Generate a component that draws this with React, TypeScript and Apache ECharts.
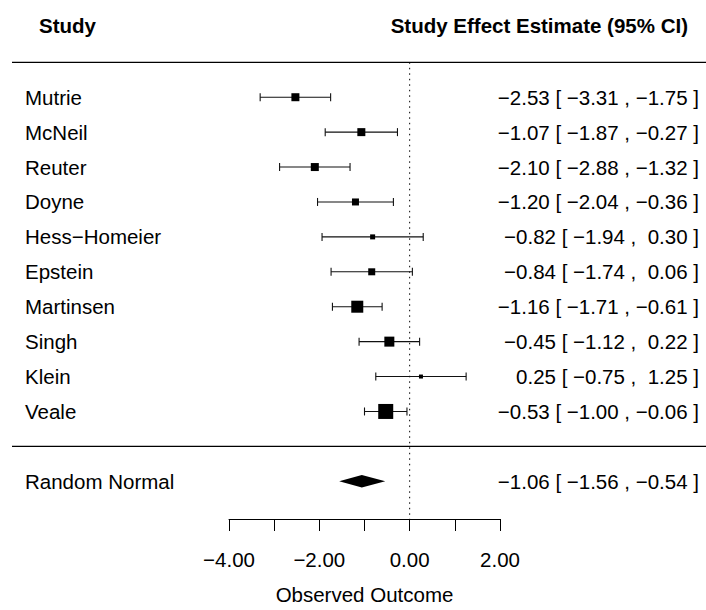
import React, { useEffect, useRef } from "react";
import * as echarts from "echarts";

const studies = ["Mutrie", "McNeil", "Reuter", "Doyne", "Hess\u2212Homeier", "Epstein", "Martinsen", "Singh", "Klein", "Veale"];
const estimates = [-2.53, -1.07, -2.1, -1.2, -0.82, -0.84, -1.16, -0.45, 0.25, -0.53];
const lowers = [-3.31, -1.87, -2.88, -2.04, -1.94, -1.74, -1.71, -1.12, -0.75, -1.0];
const uppers = [-1.75, -0.27, -1.32, -0.36, 0.3, 0.06, -0.61, 0.22, 1.25, -0.06];
// relative study weights (drive square size)
const weights = [8, 8, 8, 7, 5, 7, 12, 10, 4, 15];
const summaryLabel = "Random Normal";
const summaryEst = -1.06;
const summaryLo = -1.56;
const summaryHi = -0.54;
const xTicks = [-4, -3, -2, -1, 0, 1, 2];

const FONT = '"Liberation Sans", Arial, Helvetica, sans-serif';
const FS = 20.5;
const HFS = 20.5;

const fmt = (v: number) => (v < 0 ? "\u2212" : "") + Math.abs(v).toFixed(2);
const pad = (v: number) => (v < 0 ? fmt(v) : " " + fmt(v));
const ciText = (e: number, l: number, h: number) => `${fmt(e)} [ ${pad(l)} , ${pad(h)} ]`;

const SUMMARY_ROW = 12;
const Y_MAX = 13.08;

export default function App() {
  const ref = useRef<HTMLDivElement>(null);
  useEffect(() => {
    document.body.style.margin = "0";
    const chart = echarts.init(ref.current!, null, { renderer: "svg" });
    const studyData = studies.map((_, i) => [estimates[i], i + 1, lowers[i], uppers[i], weights[i], i]);
    const option: any = {
      animation: false,
      backgroundColor: "#fff",
      grid: { left: 229, width: 271, top: 62.3, height: 459.4, containLabel: false },
      xAxis: {
        type: "value",
        position: "bottom",
        min: xTicks[0],
        max: xTicks[xTicks.length - 1],
        interval: 1,
        axisLine: { show: true, onZero: false, lineStyle: { color: "#000", width: 1 } },
        axisTick: { show: true, length: 12, inside: false, lineStyle: { color: "#000", width: 1 } },
        axisLabel: {
          formatter: (v: number) => (Math.round(v) % 2 === 0 ? fmt(v) : ""),
          fontSize: FS,
          fontFamily: FONT,
          color: "#000",
          margin: 30,
          showMinLabel: true,
          showMaxLabel: true,
        },
        splitLine: { show: false },
        name: "Observed Outcome",
        nameLocation: "middle",
        nameGap: 65,
        nameTextStyle: { fontSize: FS, fontFamily: FONT, color: "#000" },
      },
      yAxis: { type: "value", min: 0, max: Y_MAX, inverse: true, show: false },
      graphic: [
        {
          type: "text",
          x: 39,
          y: 25.5,
          style: { text: "Study", fontSize: HFS, fontWeight: "bold", fontFamily: FONT, fill: "#000", align: "left", verticalAlign: "middle" },
        },
        {
          type: "text",
          x: 688,
          y: 25.5,
          style: { text: "Study Effect Estimate (95% CI)", fontSize: HFS, fontWeight: "bold", fontFamily: FONT, fill: "#000", align: "right", verticalAlign: "middle" },
        },
      ],
      series: [
        {
          type: "custom",
          clip: false,
          data: [[0, 0], [0, 11]],
          renderItem: (params: any, api: any) => {
            const p = api.coord([0, api.value(1)]);
            return {
              type: "line",
              shape: { x1: 12, y1: p[1], x2: api.getWidth(), y2: p[1] },
              style: { stroke: "#000", lineWidth: 1.2 },
            };
          },
        },
        {
          type: "custom",
          clip: false,
          data: [[0, 0, Y_MAX]],
          renderItem: (params: any, api: any) => {
            const a = api.coord([api.value(0), api.value(1)]);
            const b = api.coord([api.value(0), api.value(2)]);
            return {
              type: "line",
              shape: { x1: a[0], y1: a[1], x2: b[0], y2: b[1] },
              style: { stroke: "#000", lineWidth: 1, lineDash: [1.5, 4] },
            };
          },
        },
        {
          type: "custom",
          clip: false,
          data: studyData,
          renderItem: (params: any, api: any) => {
            const est = api.value(0);
            const row = api.value(1);
            const lo = api.value(2);
            const hi = api.value(3);
            const w = api.value(4);
            const i = api.value(5);
            const pLo = api.coord([lo, row]);
            const pHi = api.coord([hi, row]);
            const pE = api.coord([est, row]);
            const cap = 4;
            const s = w;
            return {
              type: "group",
              children: [
                { type: "line", shape: { x1: pLo[0], y1: pLo[1], x2: pHi[0], y2: pHi[1] }, style: { stroke: "#111", lineWidth: 1.1 } },
                { type: "line", shape: { x1: pLo[0], y1: pLo[1] - cap, x2: pLo[0], y2: pLo[1] + cap }, style: { stroke: "#111", lineWidth: 1.1 } },
                { type: "line", shape: { x1: pHi[0], y1: pHi[1] - cap, x2: pHi[0], y2: pHi[1] + cap }, style: { stroke: "#111", lineWidth: 1.1 } },
                { type: "rect", shape: { x: pE[0] - s / 2, y: pE[1] - s / 2, width: s, height: s }, style: { fill: "#000" } },
                {
                  type: "text",
                  x: 25,
                  y: pE[1],
                  style: { text: studies[i], fontSize: FS, fontFamily: FONT, fill: "#000", align: "left", verticalAlign: "middle" },
                },
                {
                  type: "text",
                  x: api.getWidth() - 7,
                  y: pE[1],
                  style: { text: ciText(est, lo, hi), fontSize: FS, fontFamily: FONT, fill: "#000", align: "right", verticalAlign: "middle" },
                },
              ],
            };
          },
        },
        {
          type: "custom",
          clip: false,
          data: [[summaryEst, SUMMARY_ROW, summaryLo, summaryHi]],
          renderItem: (params: any, api: any) => {
            const row = api.value(1);
            const e = api.coord([api.value(0), row]);
            const l = api.coord([api.value(2), row]);
            const h = api.coord([api.value(3), row]);
            const dh = 6.3;
            return {
              type: "group",
              children: [
                {
                  type: "polygon",
                  shape: { points: [[l[0], l[1]], [e[0], e[1] - dh], [h[0], h[1]], [e[0], e[1] + dh]] },
                  style: { fill: "#000" },
                },
                {
                  type: "text",
                  x: 25,
                  y: e[1],
                  style: { text: summaryLabel, fontSize: FS, fontFamily: FONT, fill: "#000", align: "left", verticalAlign: "middle" },
                },
                {
                  type: "text",
                  x: api.getWidth() - 7,
                  y: e[1],
                  style: { text: ciText(api.value(0), api.value(2), api.value(3)), fontSize: FS, fontFamily: FONT, fill: "#000", align: "right", verticalAlign: "middle" },
                },
              ],
            };
          },
        },
      ],
    };
    chart.setOption(option);
    return () => chart.dispose();
  }, []);
  return <div ref={ref} style={{ width: 706, height: 610 }} />;
}
